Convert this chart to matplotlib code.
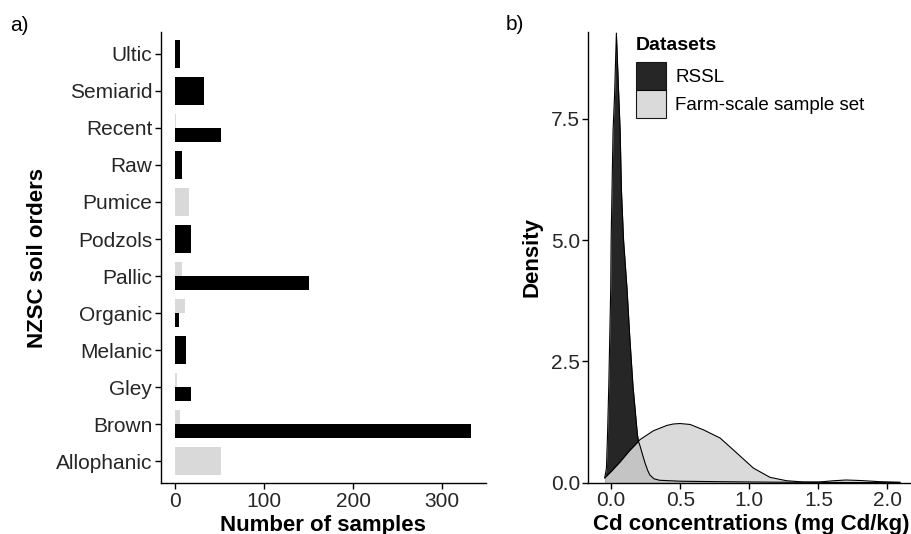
import numpy as np
import matplotlib
matplotlib.use("Agg")
import matplotlib.pyplot as plt
from matplotlib.patches import Patch

plt.rcParams['font.family'] = ['Liberation Sans', 'DejaVu Sans']

# panel a) counts per soil order (bottom to top)
orders = ["Allophanic", "Brown", "Gley", "Melanic", "Organic", "Pallic",
          "Podzols", "Pumice", "Raw", "Recent", "Semiarid", "Ultic"]
n_rssl = [0, 333, 17, 12, 4, 150, 18, 0, 7, 51, 32, 5]
n_farm = [51, 5, 2, 0, 11, 7, 0, 15, 0, 1, 0, 0]

# panel b) density curves
rssl_x = [-0.046, -0.034, -0.026, -0.017, -0.01, -0.003, 0.0, 0.014, 0.025,
          0.038, 0.055, 0.065, 0.075, 0.09, 0.115, 0.135, 0.158, 0.19, 0.198,
          0.21, 0.225, 0.246, 0.265, 0.28, 0.31, 0.35, 0.5, 0.8, 1.2, 2.09]
rssl_y = [0.1, 0.3, 1.0, 2.0, 3.0, 4.0, 5.0, 7.27, 8.0,
          9.27, 8.0, 7.27, 6.0, 5.0, 4.0, 3.0, 2.0, 1.0, 0.85,
          0.75, 0.6, 0.4, 0.25, 0.16, 0.08, 0.05, 0.03, 0.02, 0.01, 0.0]
farm_x = [-0.046, 0.0, 0.065, 0.13, 0.21, 0.306, 0.403, 0.45, 0.499, 0.572, 0.668,
          0.789, 0.91, 1.03, 1.15, 1.27, 1.39, 1.51, 1.61, 1.7, 1.8, 1.95, 2.09]
farm_y = [0.1, 0.23, 0.43, 0.65, 0.89, 1.07, 1.18, 1.21, 1.22, 1.20, 1.09,
          0.92, 0.61, 0.30, 0.11, 0.04, 0.015, 0.015, 0.04, 0.055, 0.045, 0.02, 0.01]

tick_col = "#262626"
fig = plt.figure(figsize=(9.12, 5.34), dpi=100)

# ---- a) bar chart
ax = fig.add_axes([0.1762, 0.0949, 0.3567, 0.8457])
w = 0.76
for i in range(len(orders)):
    r, f = n_rssl[i], n_farm[i]
    if r > 0 and f > 0:
        ax.barh(i - w / 4, r, height=w / 2, color="black")
        ax.barh(i + w / 4, f, height=w / 2, color="#d9d9d9")
    elif r > 0:
        ax.barh(i, r, height=w, color="black")
    else:
        ax.barh(i, f, height=w, color="#d9d9d9")
ax.set_yticks(range(len(orders)))
ax.set_yticklabels(orders)
ax.set_ylim(-0.6, len(orders) - 0.4)
ax.set_xlim(-16.65, 349.65)
ax.set_xticks([0, 100, 200, 300])
ax.set_xlabel("Number of samples", fontsize=16, fontweight="bold", labelpad=3)
ax.set_ylabel("NZSC soil orders", fontsize=16, fontweight="bold", labelpad=6)
fig.text(0.011, 0.952, "a)", fontsize=15, va="center", ha="left")

# ---- b) density plot
bx = fig.add_axes([0.6451, 0.0961, 0.3568, 0.8446])
bx.fill_between(rssl_x, rssl_y, color="black", alpha=0.85, linewidth=0)
bx.plot(rssl_x, rssl_y, color="black", lw=0.8)
bx.fill_between(farm_x, farm_y, color="#d6d6d6", alpha=0.9, linewidth=0)
bx.plot(farm_x, farm_y, color="black", lw=0.8)
bx.set_xlim(-0.165, 2.19)
bx.set_ylim(0, 9.3)
bx.set_xticks([0.0, 0.5, 1.0, 1.5, 2.0])
bx.set_xticklabels(["0.0", "0.5", "1.0", "1.5", "2.0"])
bx.set_yticks([0.0, 2.5, 5.0, 7.5])
bx.set_yticklabels(["0.0", "2.5", "5.0", "7.5"])
bx.set_xlabel("Cd concentrations (mg Cd/kg)", fontsize=16, fontweight="bold", labelpad=3)
bx.set_ylabel("Density", fontsize=16, fontweight="bold", labelpad=6)
fig.text(0.555, 0.955, "b)", fontsize=15, va="center", ha="left")

handles = [Patch(facecolor="black", alpha=0.85, edgecolor="black", lw=0.8),
           Patch(facecolor="#d6d6d6", alpha=0.9, edgecolor="black", lw=0.8)]
leg = bx.legend(handles, ["RSSL", "Farm-scale sample set"], title="Datasets",
                loc="upper left", bbox_to_anchor=(0.1466, 0.988), frameon=False,
                fontsize=13.5, handlelength=1.6, handleheight=1.9,
                labelspacing=0.0, handletextpad=0.5, borderaxespad=0.0,
                borderpad=0.0)
leg.get_title().set_fontweight("bold")
leg.get_title().set_fontsize(14)
leg._legend_box.align = "left"
leg._legend_box.sep = 6

for a in (ax, bx):
    for s in ("top", "right"):
        a.spines[s].set_visible(False)
    for s in ("left", "bottom"):
        a.spines[s].set_linewidth(1.0)
    a.tick_params(length=4, width=1.0, labelsize=15, labelcolor=tick_col, pad=2)

fig.savefig("out.png", dpi=100)
